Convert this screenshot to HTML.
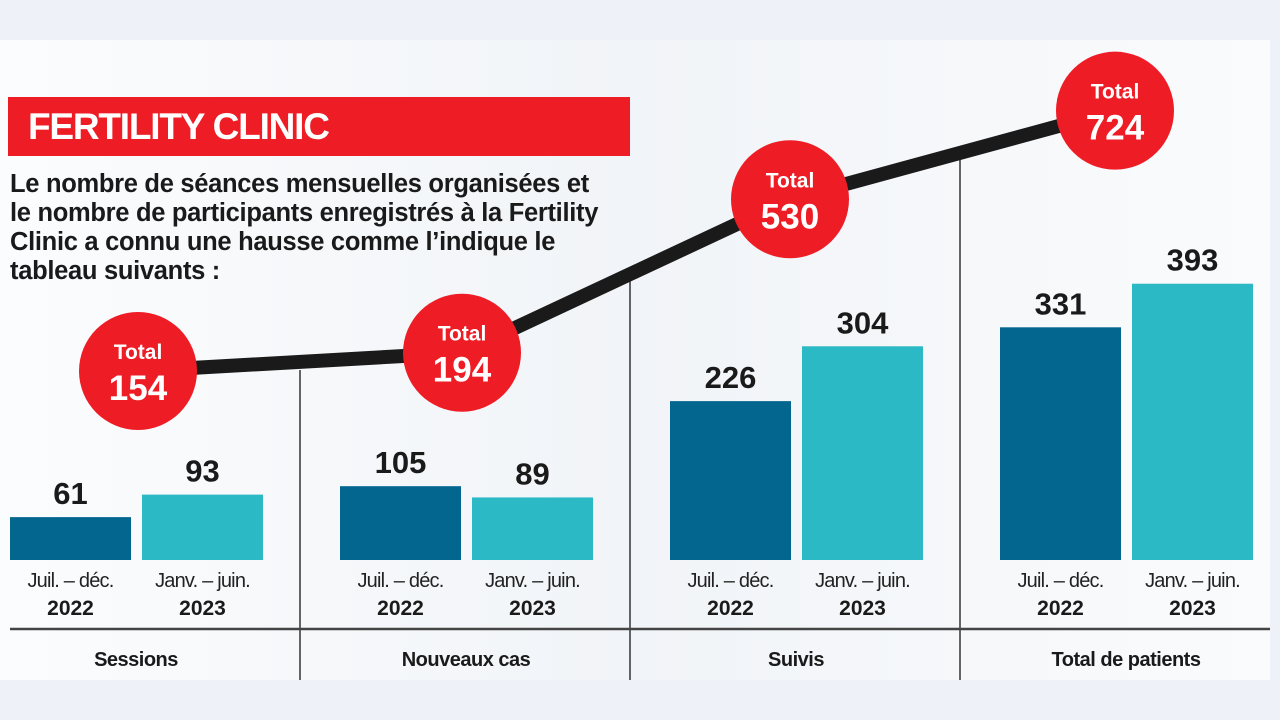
<!DOCTYPE html>
<html><head><meta charset="utf-8"><style>
html,body{margin:0;padding:0;width:1280px;height:720px;overflow:hidden;background:#eef1f8;font-family:"Liberation Sans",sans-serif}
#panel{position:absolute;left:0;top:40px;width:1270px;height:640px;background:linear-gradient(90deg,#fbfcfd,#f1f4f8 50%,#fafbfc)}
#title{position:absolute;left:8px;top:97px;width:622px;height:59px;background:#ee1c25;color:#fff;font-weight:bold;font-size:37px;line-height:59px;padding-left:20px;box-sizing:border-box;letter-spacing:-1.2px}
#desc{position:absolute;left:10px;top:170px;width:640px;font-weight:bold;font-size:25.5px;line-height:29px;color:#1a1a1a;letter-spacing:-0.3px}
</style></head><body>
<div id="panel"></div>
<div id="title">FERTILITY CLINIC</div>
<div id="desc">Le nombre de séances mensuelles organisées et<br>le nombre de participants enregistrés à la Fertility<br>Clinic a connu une hausse comme l’indique le<br>tableau suivants :</div>
<svg id="chart" width="1280" height="720" style="position:absolute;left:0;top:0"></svg>
<script>
const categories=["Sessions","Nouveaux cas","Suivis","Total de patients"];
const series2022=[61,105,226,331];
const series2023=[93,89,304,393];
const totals=[154,194,530,724];
const periodLabels=[["Juil. – déc.","2022"],["Janv. – juin.","2023"]];
const NS="http://www.w3.org/2000/svg";
const svg=document.getElementById('chart');
const baseY=560, k=0.703;
const yScale=v=>baseY-v*k;
const groupX=i=>10+i*330;
const barW=121, gap=11;
const totScale=v=>371-(v-154)*0.4567;
function el(t,a,txt){const e=document.createElementNS(NS,t);for(const p in a)e.setAttribute(p,a[p]);if(txt!==undefined)e.textContent=txt;svg.appendChild(e);return e;}
const divTop=[370,280,160];
for(let i=1;i<4;i++){const l=el('line',{x1:groupX(i)-40,x2:groupX(i)-40,y1:divTop[i-1],y2:680,stroke:'#333','stroke-width':1.5});

}
const base=el('line',{x1:10,x2:1270,y1:629,y2:629,stroke:'#444','stroke-width':2.5});


const cxs=[138,462,790,1115];
const cx=i=>cxs[i];
let pts=totals.map((v,i)=>cx(i)+','+totScale(v)).join(' ');
const pl=el('polyline',{points:pts,fill:'none',stroke:'#1a1a1a','stroke-width':14,'stroke-linejoin':'round'});


categories.forEach((c,i)=>{
  const x0=groupX(i);
  [series2022[i],series2023[i]].forEach((v,j)=>{
    const x=x0+j*(barW+gap);
    const r=el('rect',{x:x,y:yScale(v),width:barW,height:v*k,fill:j?'#2bbac5':'#03668f'});
    
    
    const t=el('text',{x:x+barW/2,y:yScale(v)-13,'text-anchor':'middle','font-size':31,'font-weight':'bold',fill:'#1a1a1a'},v);
    
    
    const p1=el('text',{x:x+barW/2,y:587,'text-anchor':'middle','font-size':20,fill:'#222','letter-spacing':'-0.8'},periodLabels[j][0]);
    
    
    const p2=el('text',{x:x+barW/2,y:615,'text-anchor':'middle','font-size':21,'font-weight':'bold',fill:'#1a1a1a'},periodLabels[j][1]);
    
    
  });
  const cl=el('text',{x:x0+126,y:666,'text-anchor':'middle','font-size':20,'font-weight':'bold',fill:'#1a1a1a','letter-spacing':'-0.5'},c);
  
  
  const X=cx(i),Y=totScale(totals[i]);
  const ci=el('circle',{cx:X,cy:Y,r:59,fill:'#ee1c25'});
  
  
  const t1=el('text',{x:X,y:Y-12,'text-anchor':'middle','font-size':21,'font-weight':'bold',fill:'#fff'},'Total');
  
  
  const t2=el('text',{x:X,y:Y+29,'text-anchor':'middle','font-size':35,'font-weight':'bold',fill:'#fff'},totals[i]);
  
  
});
</script>
</body></html>
